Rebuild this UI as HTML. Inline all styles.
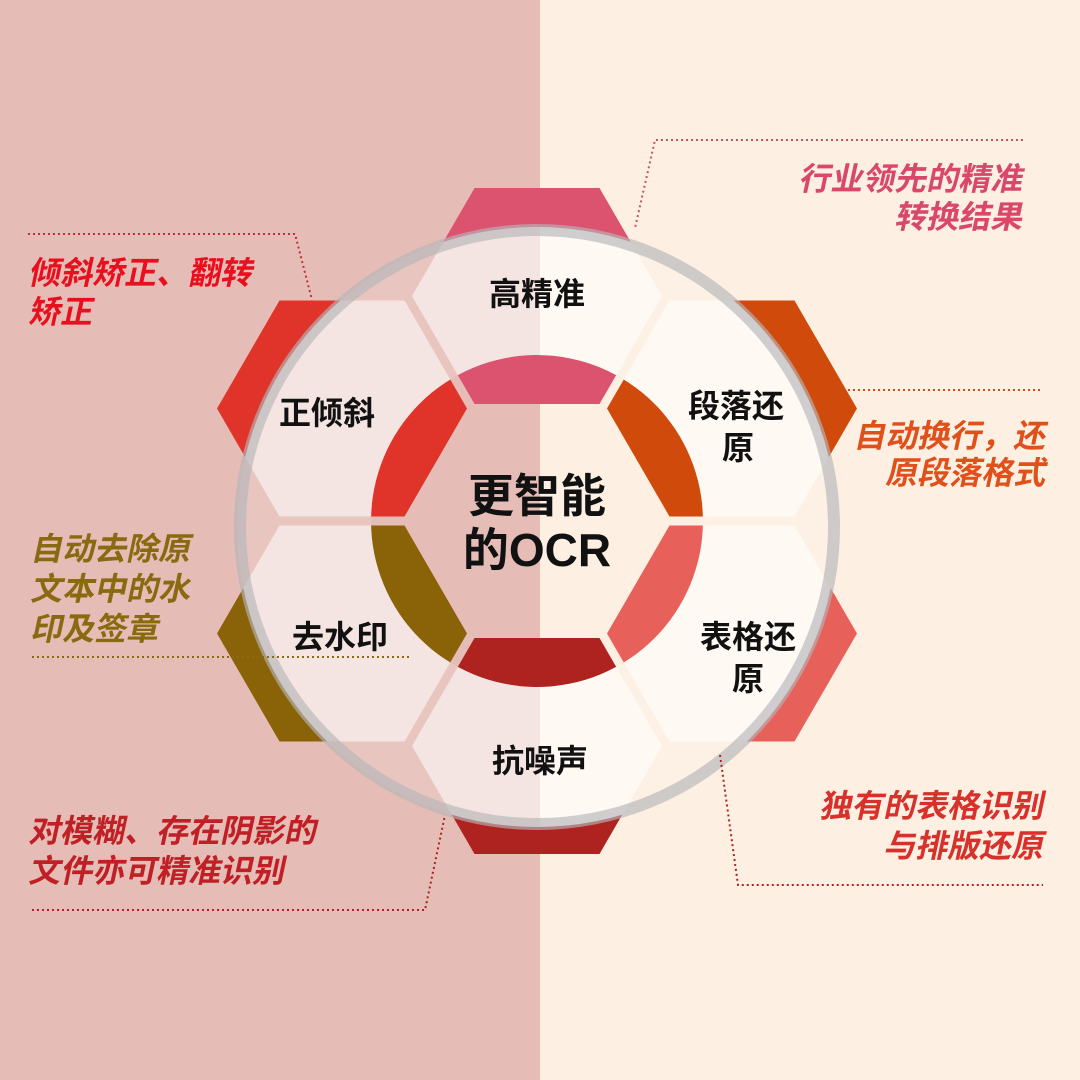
<!DOCTYPE html>
<html><head><meta charset="utf-8"><style>
html,body{margin:0;padding:0;}
body{width:1080px;height:1080px;overflow:hidden;position:relative;background:#fdf0e2;}
svg{position:absolute;left:0;top:0;}
</style></head><body>
<svg width="1080" height="1080" viewBox="0 0 1080 1080" xmlns="http://www.w3.org/2000/svg">
<defs>
<mask id="outer">
<rect x="0" y="0" width="1080" height="1080" fill="#fff"/>
<circle cx="537" cy="527" r="300" fill="#000"/>
<circle cx="537" cy="521" r="166" fill="#fff"/>
</mask>
<mask id="inner">
<rect x="0" y="0" width="1080" height="1080" fill="#000"/>
<circle cx="537" cy="527" r="300" fill="#fff"/>
<circle cx="537" cy="521" r="166" fill="#000"/>
</mask>
<path id="hx" d="M-125 0 L-62.5 -108 L62.5 -108 L125 0 L62.5 108 L-62.5 108 Z"/>
</defs>
<rect x="0" y="0" width="540" height="1080" fill="#e5bdb6"/>
<rect x="540" y="0" width="540" height="1080" fill="#fdf0e2"/>
<circle cx="537" cy="527" r="300" fill="#fff" opacity="0.12" mask="url(#inner)"/>
<g mask="url(#outer)">
<use href="#hx" transform="translate(537,296)" fill="#dc5370"/>
<use href="#hx" transform="translate(732,408.5)" fill="#d04a0c"/>
<use href="#hx" transform="translate(732,633.5)" fill="#e8605a"/>
<use href="#hx" transform="translate(537,746)" fill="#ae2320"/>
<use href="#hx" transform="translate(342,633.5)" fill="#8a6208"/>
<use href="#hx" transform="translate(342,408.5)" fill="#e0342a"/>
</g>
<g mask="url(#inner)" fill="#fff" opacity="0.55">
<use href="#hx" transform="translate(537,296)"/>
<use href="#hx" transform="translate(732,408.5)"/>
<use href="#hx" transform="translate(732,633.5)"/>
<use href="#hx" transform="translate(537,746)"/>
<use href="#hx" transform="translate(342,633.5)"/>
<use href="#hx" transform="translate(342,408.5)"/>
</g>
<circle cx="537" cy="527" r="297" fill="none" stroke="#b5b5b8" stroke-width="12" opacity="0.65"/>
<g fill="none" stroke-width="2" stroke-dasharray="2 3">
<polyline points="28,234 295,234 312,300" stroke="#c0303a"/>
<polyline points="32,657 412,657" stroke="#8a6a10"/>
<polyline points="32,910 425,910 445,815" stroke="#b02025"/>
<polyline points="1023,140 655,140 635,228" stroke="#c8506a"/>
<polyline points="848,390 1042,390" stroke="#c85020"/>
<polyline points="720,755 738,885 1043,885" stroke="#b02025"/>
</g>
<g font-family="Liberation Sans, Noto Sans CJK SC, sans-serif" font-weight="bold" fill="#111" text-anchor="middle" font-size="32">
<text x="537" y="305">高精准</text>
<text x="327" y="424">正倾斜</text>
<text x="736" y="417">段落还</text>
<text x="738" y="459">原</text>
<text x="748" y="648">表格还</text>
<text x="748" y="690">原</text>
<text x="340" y="648">去水印</text>
<text x="540" y="772">抗噪声</text>
<text x="537" y="512" font-size="46">更智能</text>
<text x="537" y="566" font-size="46">的OCR</text>
</g>
<g font-family="Liberation Sans, Noto Sans CJK SC, sans-serif" font-weight="bold" font-size="32">
<g fill="#e8101e"><text transform="translate(28,284) skewX(-12)">倾斜矫正、翻转</text><text transform="translate(28,323) skewX(-12)">矫正</text></g>
<g fill="#8a6a10"><text transform="translate(30,560) skewX(-12)">自动去除原</text><text transform="translate(30,600) skewX(-12)">文本中的水</text><text transform="translate(30,640) skewX(-12)">印及签章</text></g>
<g fill="#c02025"><text transform="translate(28,842) skewX(-12)">对模糊、存在阴影的</text><text transform="translate(28,882) skewX(-12)">文件亦可精准识别</text></g>
<g fill="#d9486a" text-anchor="end"><text transform="translate(1022,190) skewX(-12)">行业领先的精准</text><text transform="translate(1022,228) skewX(-12)">转换结果</text></g>
<g fill="#e0501a" text-anchor="end"><text transform="translate(1045,447) skewX(-12)">自动换行，还</text><text transform="translate(1045,484) skewX(-12)">原段落格式</text></g>
<g fill="#d8302a" text-anchor="end"><text transform="translate(1043,817) skewX(-12)">独有的表格识别</text><text transform="translate(1043,857) skewX(-12)">与排版还原</text></g>
</g>
</svg>
</body></html>
